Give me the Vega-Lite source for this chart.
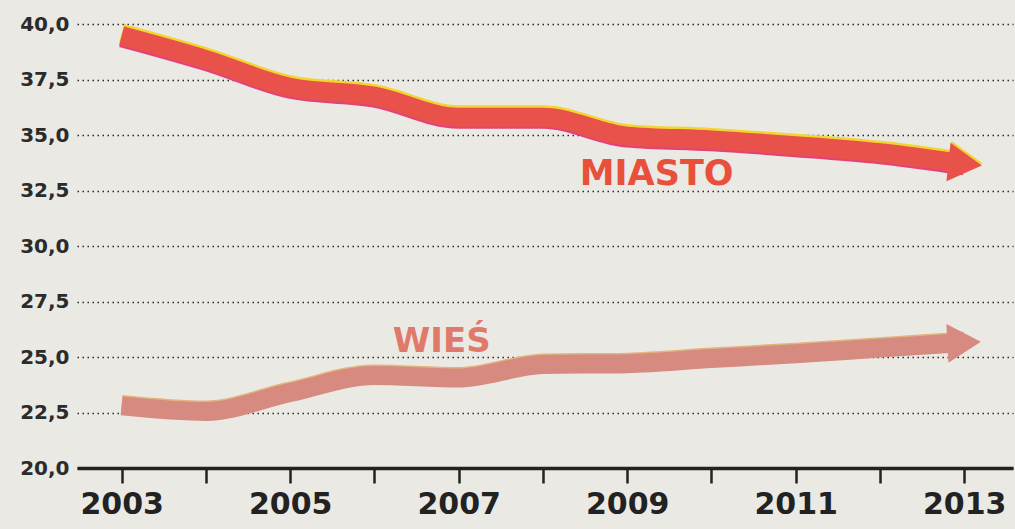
{
  "$schema": "https://vega.github.io/schema/vega-lite/v6.json",
  "width": 936,
  "height": 444,
  "autosize": {"type": "none"},
  "padding": {"left": 77, "top": 24, "right": 2, "bottom": 61},
  "background": "#EAE9E4",
  "config": {"view": {"stroke": null}, "font": "DejaVu Sans"},
  "datasets": {
    "series": [
      {"year": 2003, "value": 39.47, "series": "MIASTO"},
      {"year": 2004, "value": 38.4, "series": "MIASTO"},
      {"year": 2005, "value": 37.15, "series": "MIASTO"},
      {"year": 2006, "value": 36.75, "series": "MIASTO"},
      {"year": 2007, "value": 35.8, "series": "MIASTO"},
      {"year": 2008, "value": 35.8, "series": "MIASTO"},
      {"year": 2009, "value": 34.95, "series": "MIASTO"},
      {"year": 2010, "value": 34.78, "series": "MIASTO"},
      {"year": 2011, "value": 34.52, "series": "MIASTO"},
      {"year": 2012, "value": 34.2, "series": "MIASTO"},
      {"year": 2013, "value": 33.7, "series": "MIASTO"},
      {"year": 2003, "value": 22.8, "series": "WIEŚ"},
      {"year": 2004, "value": 22.55, "series": "WIEŚ"},
      {"year": 2005, "value": 23.4, "series": "WIEŚ"},
      {"year": 2006, "value": 24.17, "series": "WIEŚ"},
      {"year": 2007, "value": 24.05, "series": "WIEŚ"},
      {"year": 2008, "value": 24.66, "series": "WIEŚ"},
      {"year": 2009, "value": 24.7, "series": "WIEŚ"},
      {"year": 2010, "value": 24.93, "series": "WIEŚ"},
      {"year": 2011, "value": 25.15, "series": "WIEŚ"},
      {"year": 2012, "value": 25.4, "series": "WIEŚ"},
      {"year": 2013, "value": 25.65, "series": "WIEŚ"}
    ],
    "labels": [
      {"year": 2009.35, "value": 32.75, "label": "MIASTO"},
      {"year": 2006.8, "value": 25.23, "label": "WIEŚ"}
    ]
  },
  "layer": [
    {
      "data": {"name": "series"},
      "transform": [{"filter": "datum.series == 'MIASTO'"}],
      "mark": {"type": "line", "stroke": "#F2D52E", "strokeWidth": 19, "yOffset": -2.5, "interpolate": "monotone", "strokeCap": "butt"},
      "encoding": {
        "x": {
          "field": "year", "type": "quantitative",
          "scale": {"domain": [2002.47, 2013.58], "nice": false, "zero": false},
          "axis": {
            "values": [2003, 2004, 2005, 2006, 2007, 2008, 2009, 2010, 2011, 2012, 2013],
            "labelExpr": "datum.value % 2 == 1 ? toString(datum.value) : ''",
            "title": null, "grid": false,
            "tickSize": 15, "tickWidth": 2.5, "tickColor": "#222222",
            "domainWidth": 3.5, "domainColor": "#222222",
            "labelFontSize": 30, "labelFontWeight": "bold", "labelPadding": 6, "labelColor": "#222222",
            "labelFont": "DejaVu Sans", "labelOverlap": false, "labelFlush": false
          }
        },
        "y": {
          "field": "value", "type": "quantitative",
          "scale": {"domain": [20, 40], "nice": false, "zero": false},
          "axis": {
            "values": [20, 22.5, 25, 27.5, 30, 32.5, 35, 37.5, 40],
            "labelExpr": "replace(format(datum.value, '.1f'), '.', ',')",
            "title": null, "domain": false, "ticks": false,
            "grid": true, "gridDash": [1.5, 3.5], "gridColor": "#2a2a2a", "gridWidth": 1.6,
            "labelFontSize": 20, "labelFontWeight": "bold", "labelColor": "#2b2b2b",
            "labelPadding": 8, "labelFont": "DejaVu Sans"
          }
        }
      }
    },
    {
      "data": {"name": "series"},
      "transform": [{"filter": "datum.series == 'MIASTO'"}],
      "mark": {"type": "line", "stroke": "#E2417C", "strokeWidth": 19, "yOffset": 2, "interpolate": "monotone", "strokeCap": "butt"},
      "encoding": {
        "x": {"field": "year", "type": "quantitative"},
        "y": {"field": "value", "type": "quantitative"}
      }
    },
    {
      "data": {"name": "series"},
      "transform": [{"filter": "datum.series == 'MIASTO'"}],
      "mark": {"type": "line", "stroke": "#E9524A", "strokeWidth": 19, "interpolate": "monotone", "strokeCap": "butt"},
      "encoding": {
        "x": {"field": "year", "type": "quantitative"},
        "y": {"field": "value", "type": "quantitative"}
      }
    },
    {
      "data": {"name": "series"},
      "transform": [{"filter": "datum.series == 'WIEŚ'"}],
      "mark": {"type": "line", "stroke": "#E3B47E", "strokeWidth": 19, "yOffset": -1.5, "interpolate": "monotone", "strokeCap": "butt"},
      "encoding": {
        "x": {"field": "year", "type": "quantitative"},
        "y": {"field": "value", "type": "quantitative"}
      }
    },
    {
      "data": {"name": "series"},
      "transform": [{"filter": "datum.series == 'WIEŚ'"}],
      "mark": {"type": "line", "stroke": "#D68A80", "strokeWidth": 19, "interpolate": "monotone", "strokeCap": "butt"},
      "encoding": {
        "x": {"field": "year", "type": "quantitative"},
        "y": {"field": "value", "type": "quantitative"}
      }
    },
    {
      "data": {"name": "series"},
      "transform": [{"filter": "datum.series == 'MIASTO' && datum.year == 2013"}],
      "mark": {"type": "point", "shape": "triangle-right", "size": 1500, "filled": true, "opacity": 1, "color": "#F2D52E", "angle": 6, "xOffset": 2, "yOffset": -2},
      "encoding": {
        "x": {"field": "year", "type": "quantitative"},
        "y": {"field": "value", "type": "quantitative"}
      }
    },
    {
      "data": {"name": "series"},
      "transform": [{"filter": "datum.series == 'MIASTO' && datum.year == 2013"}],
      "mark": {"type": "point", "shape": "triangle-right", "size": 1500, "filled": true, "opacity": 1, "color": "#E9524A", "angle": 6, "xOffset": 1},
      "encoding": {
        "x": {"field": "year", "type": "quantitative"},
        "y": {"field": "value", "type": "quantitative"}
      }
    },
    {
      "data": {"name": "series"},
      "transform": [{"filter": "datum.series == 'WIEŚ' && datum.year == 2013"}],
      "mark": {"type": "point", "shape": "triangle-right", "size": 1500, "filled": true, "opacity": 1, "color": "#D68A80", "angle": -3, "xOffset": 0},
      "encoding": {
        "x": {"field": "year", "type": "quantitative"},
        "y": {"field": "value", "type": "quantitative"}
      }
    },
    {
      "data": {"name": "labels"},
      "transform": [{"filter": "datum.label == 'MIASTO'"}],
      "mark": {"type": "text", "font": "DejaVu Sans", "fontWeight": "bold", "fontSize": 35, "color": "#E8503C", "align": "center", "baseline": "alphabetic"},
      "encoding": {
        "x": {"field": "year", "type": "quantitative"},
        "y": {"field": "value", "type": "quantitative"},
        "text": {"field": "label"}
      }
    },
    {
      "data": {"name": "labels"},
      "transform": [{"filter": "datum.label == 'WIEŚ'"}],
      "mark": {"type": "text", "font": "DejaVu Sans", "fontWeight": "bold", "fontSize": 34, "color": "#E0796A", "align": "center", "baseline": "alphabetic"},
      "encoding": {
        "x": {"field": "year", "type": "quantitative"},
        "y": {"field": "value", "type": "quantitative"},
        "text": {"field": "label"}
      }
    }
  ]
}
